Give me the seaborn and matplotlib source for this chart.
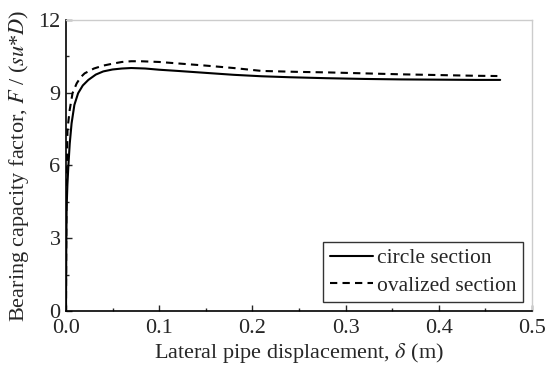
"""Bearing capacity factor vs lateral pipe displacement."""

import matplotlib

matplotlib.use("Agg")
import matplotlib.pyplot as plt
import pandas as pd
import seaborn as sns
from matplotlib.ticker import MultipleLocator

# circle section (solid line)
circle_disp = [0, 0.0003, 0.0007, 0.0015, 0.0025, 0.004, 0.006, 0.009, 0.013,
               0.018, 0.024, 0.032, 0.04, 0.05, 0.06, 0.07, 0.085, 0.1, 0.12,
               0.15, 0.18, 0.21, 0.24, 0.28, 0.32, 0.36, 0.40, 0.44, 0.466]
circle_f = [0, 2.5, 4.3, 5.2, 5.95, 6.9, 7.74, 8.5, 8.98,
            9.3, 9.53, 9.75, 9.88, 9.96, 10.0, 10.02, 10.0, 9.95, 9.9,
            9.82, 9.74, 9.68, 9.64, 9.6, 9.57, 9.55, 9.54, 9.53, 9.53]

# ovalized section (dashed line)
oval_disp = [0, 0.0003, 0.0008, 0.0016, 0.004, 0.007, 0.0115, 0.016, 0.02,
             0.03, 0.04, 0.05, 0.06, 0.07, 0.08, 0.1, 0.12, 0.15, 0.18, 0.21,
             0.25, 0.28, 0.32, 0.36, 0.40, 0.44, 0.463]
oval_f = [0, 3.5, 5.8, 7.5, 8.3, 8.98, 9.39, 9.65, 9.8,
          10.0, 10.12, 10.2, 10.27, 10.3, 10.3, 10.27, 10.21, 10.12, 10.02, 9.9,
          9.86, 9.84, 9.8, 9.76, 9.73, 9.7, 9.69]

sns.set_style("ticks")
plt.rcParams["font.family"] = ["Liberation Serif", "DejaVu Serif"]
plt.rcParams["mathtext.fontset"] = "stix"

circle = pd.DataFrame({"disp": circle_disp, "f": circle_f})
oval = pd.DataFrame({"disp": oval_disp, "f": oval_f})

fig = plt.figure(figsize=(5.5, 3.71), dpi=100)
ax = fig.add_axes([0.12, 0.162, 0.847, 0.784])

sns.lineplot(data=circle, x="disp", y="f", color="black", lw=1.5,
             label="circle section", ax=ax)
sns.lineplot(data=oval, x="disp", y="f", color="black", lw=1.5,
             dashes=False, label="ovalized section", ax=ax)
ax.lines[1].set_dashes((3.5, 2.5))

ax.set_xlim(0, 0.5)
ax.set_ylim(0, 12)
ax.xaxis.set_major_locator(MultipleLocator(0.1))
ax.xaxis.set_minor_locator(MultipleLocator(0.05))
ax.yaxis.set_major_locator(MultipleLocator(3))
ax.yaxis.set_minor_locator(MultipleLocator(1.5))
ax.xaxis.set_major_formatter(plt.FormatStrFormatter("%.1f"))

ax.tick_params(which="both", direction="in", top=False, right=False,
               labelsize=16)
ax.tick_params(axis="x", which="major", pad=6)
ax.tick_params(axis="y", which="major", pad=4)
ax.tick_params(which="major", length=4, width=1)
ax.tick_params(which="minor", length=2.5, width=1)

for side in ["left", "bottom"]:
    ax.spines[side].set_color("black")
    ax.spines[side].set_linewidth(1.2)
for side in ["top", "right"]:
    ax.spines[side].set_color("#cccccc")
    ax.spines[side].set_linewidth(1.0)

ax.set_xlabel(r"Lateral pipe displacement, $\delta$ (m)", fontsize=16, labelpad=2)
ax.set_ylabel(r"Bearing capacity factor, $F$ / ($su$*$D$)", fontsize=16, labelpad=5)

leg = ax.legend(loc="lower right", fontsize=15.5, frameon=True, fancybox=False,
                handlelength=2.0, handletextpad=0.2, labelspacing=0.35,
                borderpad=0.3, borderaxespad=0.4)
leg.get_frame().set_edgecolor("black")
leg.get_frame().set_linewidth(1.0)

fig.savefig("out.png", dpi=100)
